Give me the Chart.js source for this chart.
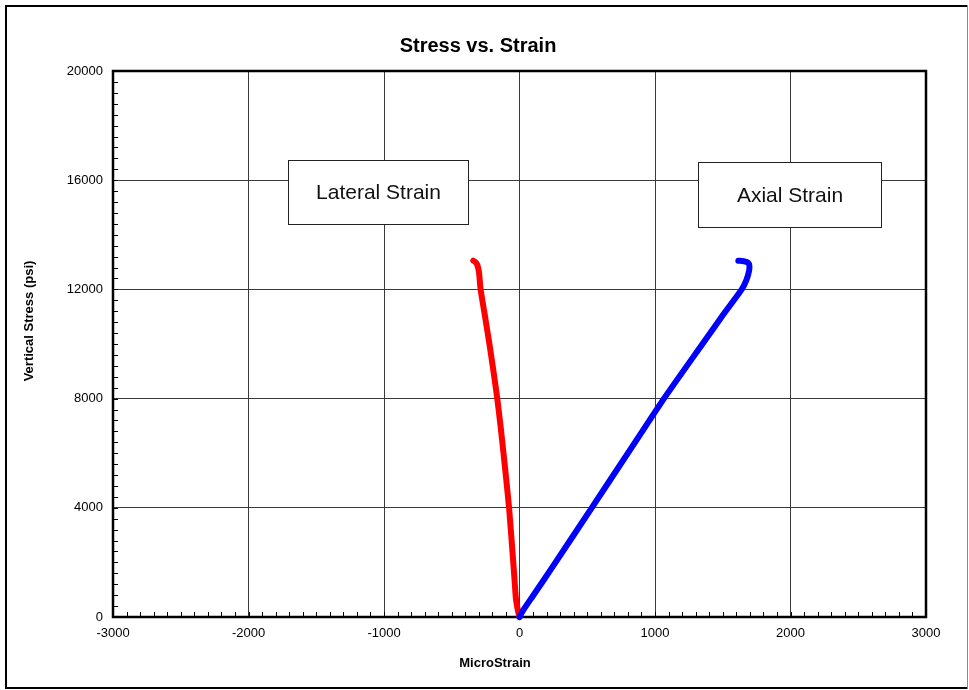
<!DOCTYPE html>
<html>
<head>
<meta charset="utf-8">
<title>Stress vs. Strain</title>
<script src="https://cdn.jsdelivr.net/npm/chart.js@4.4.1/dist/chart.umd.min.js"></script>
<style>
    html, body { margin: 0; padding: 0; background: #fff; }
    canvas { display: block; }
</style>
</head>
<body>
<canvas id="stressChart" width="969" height="690"></canvas>
<script>
// Axial gauge readings (microstrain) and matching vertical stress (psi)
const axialStrain = [0, 30, 100, 250, 533, 800, 1066, 1350, 1500, 1640, 1675, 1693, 1697, 1688, 1655, 1615];
const axialStress = [0, 270, 780, 1880, 4000, 6000, 8000, 10000, 11050, 12000, 12350, 12650, 12850, 12980, 13030, 13050];

// Lateral gauge readings (microstrain) and matching vertical stress (psi)
const lateralStrain = [0, -8, -18, -27, -40, -58, -77, -97, -118, -140, -164, -192, -222, -254, -287, -298, -311, -325, -341];
const lateralStress = [0, 150, 400, 700, 1600, 2800, 4000, 5000, 6000, 7000, 8000, 9000, 10000, 11000, 12000, 12590, 12894, 13000, 13051];

// Axis ranges and tick steps
const xTicks = [-3000, -2000, -1000, 0, 1000, 2000, 3000];
const yTicks = [0, 4000, 8000, 12000, 16000, 20000];
const xMinorStep = 100;
const yMinorStep = 400;

// Text boxes, corners given in data units
const boxes = [
    { text: 'Lateral Strain', x0: -1705, x1: -377, y0: 16750, y1: 14400 },
    { text: 'Axial Strain', x0: 1317, x1: 2666, y0: 16660, y1: 14300 }
];

const FONT = '"Liberation Sans", Arial, Helvetica, sans-serif';

function toPoints(xs, ys) {
    return xs.map((x, i) => ({ x: x, y: ys[i] }));
}

const decorations = {
    id: 'decorations',
    beforeDraw(chart) {
        const c = chart.ctx;
        c.save();
        c.fillStyle = '#fff';
        c.fillRect(0, 0, chart.width, chart.height);
        // outer frame
        c.strokeStyle = '#000';
        c.lineWidth = 2;
        c.beginPath();
        c.moveTo(967, 6);
        c.lineTo(6, 6);
        c.lineTo(6, 688);
        c.lineTo(967, 688);
        c.stroke();
        c.strokeStyle = '#888';
        c.lineWidth = 1;
        c.beginPath();
        c.moveTo(967.5, 5);
        c.lineTo(967.5, 689);
        c.stroke();
        c.restore();
    },
    beforeDatasetsDraw(chart) {
        const c = chart.ctx;
        const a = chart.chartArea;
        const xs = chart.scales.x;
        const ys = chart.scales.y;
        c.save();
        // minor ticks pointing into the plot
        c.strokeStyle = '#000';
        c.lineWidth = 1;
        c.beginPath();
        for (let v = xs.min; v <= xs.max; v += xMinorStep) {
            const px = Math.round(xs.getPixelForValue(v)) + 0.5;
            c.moveTo(px, a.bottom);
            c.lineTo(px, a.bottom - 5);
        }
        for (let v = ys.min; v <= ys.max; v += yMinorStep) {
            const py = Math.round(ys.getPixelForValue(v)) + 0.5;
            c.moveTo(a.left, py);
            c.lineTo(a.left + 5, py);
        }
        c.stroke();
        // plot border
        c.lineWidth = 2.5;
        c.strokeRect(a.left, a.top, a.right - a.left, a.bottom - a.top);
        c.restore();
    },
    afterDraw(chart) {
        const c = chart.ctx;
        const xs = chart.scales.x;
        const ys = chart.scales.y;
        c.save();
        c.fillStyle = '#000';
        c.textAlign = 'center';
        c.textBaseline = 'middle';

        c.font = 'bold 20px ' + FONT;
        c.fillText('Stress vs. Strain', 478, 46);

        c.font = 'bold 13px ' + FONT;
        c.fillText('MicroStrain', 495, 663);

        c.translate(29, 321);
        c.rotate(-Math.PI / 2);
        c.fillText('Vertical Stress (psi)', 0, 0);
        c.setTransform(1, 0, 0, 1, 0, 0);

        // labelled boxes
        c.font = '21px ' + FONT;
        boxes.forEach(b => {
            const l = Math.round(xs.getPixelForValue(b.x0)) + 0.5;
            const r = Math.round(xs.getPixelForValue(b.x1)) + 0.5;
            const t = Math.round(ys.getPixelForValue(b.y0)) + 0.5;
            const btm = Math.round(ys.getPixelForValue(b.y1)) + 0.5;
            c.fillStyle = '#fff';
            c.fillRect(l, t, r - l, btm - t);
            c.strokeStyle = '#222';
            c.lineWidth = 1;
            c.strokeRect(l, t, r - l, btm - t);
            c.fillStyle = '#111';
            c.fillText(b.text, (l + r) / 2, (t + btm) / 2 + 1);
        });
        c.restore();
    }
};

new Chart(document.getElementById('stressChart'), {
    type: 'scatter',
    data: {
        datasets: [
            {
                label: 'Axial Strain',
                data: toPoints(axialStrain, axialStress),
                showLine: true,
                borderColor: '#0000ff',
                borderWidth: 6,
                borderCapStyle: 'round',
                borderJoinStyle: 'round',
                pointRadius: 0,
                tension: 0.2,
                clip: false
            },
            {
                label: 'Lateral Strain',
                data: toPoints(lateralStrain, lateralStress),
                showLine: true,
                borderColor: '#ff0000',
                borderWidth: 6,
                borderCapStyle: 'round',
                borderJoinStyle: 'round',
                pointRadius: 0,
                tension: 0.2,
                clip: false
            }
        ]
    },
    options: {
        responsive: false,
        animation: false,
        layout: { padding: { left: 0, top: 71, right: 43, bottom: 0 } },
        plugins: {
            legend: { display: false },
            title: { display: false },
            tooltip: { enabled: false }
        },
        scales: {
            x: {
                type: 'linear',
                min: xTicks[0],
                max: xTicks[xTicks.length - 1],
                afterBuildTicks: scale => { scale.ticks = xTicks.map(v => ({ value: v })); },
                afterFit: scale => { scale.height = 73; },
                border: { display: false },
                grid: { color: '#3a3a3a', lineWidth: 1, drawTicks: false },
                ticks: {
                    color: '#000',
                    padding: 9,
                    maxRotation: 0,
                    font: { family: FONT, size: 13 },
                    callback: v => String(v)
                }
            },
            y: {
                type: 'linear',
                min: yTicks[0],
                max: yTicks[yTicks.length - 1],
                afterBuildTicks: scale => { scale.ticks = yTicks.map(v => ({ value: v })); },
                afterFit: scale => { scale.width = 113; },
                border: { display: false },
                grid: { color: '#3a3a3a', lineWidth: 1, drawTicks: false },
                ticks: {
                    color: '#000',
                    padding: 10,
                    font: { family: FONT, size: 13 },
                    callback: v => String(v)
                }
            }
        }
    },
    plugins: [decorations]
});
</script>
</body>
</html>
